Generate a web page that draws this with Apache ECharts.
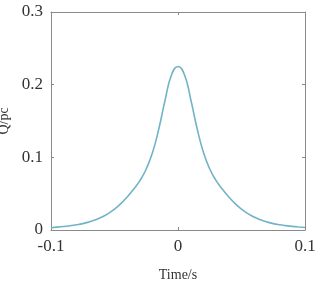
<!DOCTYPE html>
<html>
<head>
<meta charset="utf-8">
<script src="https://cdn.jsdelivr.net/npm/echarts@6/dist/echarts.min.js"></script>
<style>
  html, body { margin: 0; padding: 0; background: #fff; }
  #chart { width: 323px; height: 282px; }
</style>
</head>
<body>
<div id="chart"></div>
<script>
// time (s) and Q (pc)
const times = [-0.1, -0.095, -0.09, -0.085, -0.08, -0.075, -0.07, -0.065, -0.06, -0.055,
  -0.05, -0.045, -0.04, -0.035, -0.03, -0.025, -0.02, -0.015, -0.01, -0.005,
  0, 0.005, 0.01, 0.015, 0.02, 0.025, 0.03, 0.035, 0.04, 0.045,
  0.05, 0.055, 0.06, 0.065, 0.07, 0.075, 0.08, 0.085, 0.09, 0.095, 0.1]
const charge = [0.0032, 0.0039, 0.0048, 0.0059, 0.0072, 0.0088, 0.0111, 0.014, 0.0178, 0.0226,
  0.0287, 0.0362, 0.0455, 0.056, 0.068, 0.084, 0.107, 0.14, 0.18, 0.214,
  0.225, 0.214, 0.18, 0.14, 0.107, 0.084, 0.068, 0.056, 0.0455, 0.0362,
  0.0287, 0.0226, 0.0178, 0.014, 0.0111, 0.0088, 0.0072, 0.006, 0.005, 0.0042, 0.0035]

const serif = '"Liberation Serif", "DejaVu Serif", serif'
const axisGray = '#8a8a8a'

const chart = echarts.init(document.getElementById('chart'))

const frameAxis = {
  axisLine: { show: true, onZero: false, lineStyle: { color: axisGray, width: 1 } },
  axisTick: { show: true, inside: true, length: 3, lineStyle: { color: axisGray } },
  splitLine: { show: false }
}

chart.setOption({
  animation: false,
  grid: { left: 51, right: 18, top: 12, bottom: 52, containLabel: false, outerBoundsMode: 'none' },
  xAxis: [
    {
      type: 'value', min: -0.1, max: 0.1, interval: 0.1,
      name: 'Time/s', nameLocation: 'middle', nameGap: 38,
      nameTextStyle: { fontFamily: serif, fontSize: 14, color: '#333' },
      axisLabel: { fontFamily: serif, fontSize: 17, color: '#333', margin: 8 },
      ...frameAxis
    },
    {
      type: 'value', position: 'top', min: -0.1, max: 0.1, interval: 0.1,
      axisLabel: { show: false },
      ...frameAxis
    }
  ],
  yAxis: [
    {
      type: 'value', min: 0, max: 0.3, interval: 0.1,
      name: 'Q/pc', nameLocation: 'middle', nameGap: 37, nameRotate: 90,
      nameTextStyle: { fontFamily: serif, fontSize: 14, color: '#333' },
      axisLabel: { fontFamily: serif, fontSize: 17, color: '#333', margin: 8 },
      ...frameAxis
    },
    {
      type: 'value', position: 'right', min: 0, max: 0.3, interval: 0.1,
      axisLabel: { show: false },
      ...frameAxis
    }
  ],
  series: [
    {
      type: 'line',
      data: times.map((t, i) => [t, charge[i]]),
      smooth: 0.5,
      showSymbol: false,
      lineStyle: { color: '#72b3c6', width: 1.6 }
    }
  ]
})
</script>
</body>
</html>
